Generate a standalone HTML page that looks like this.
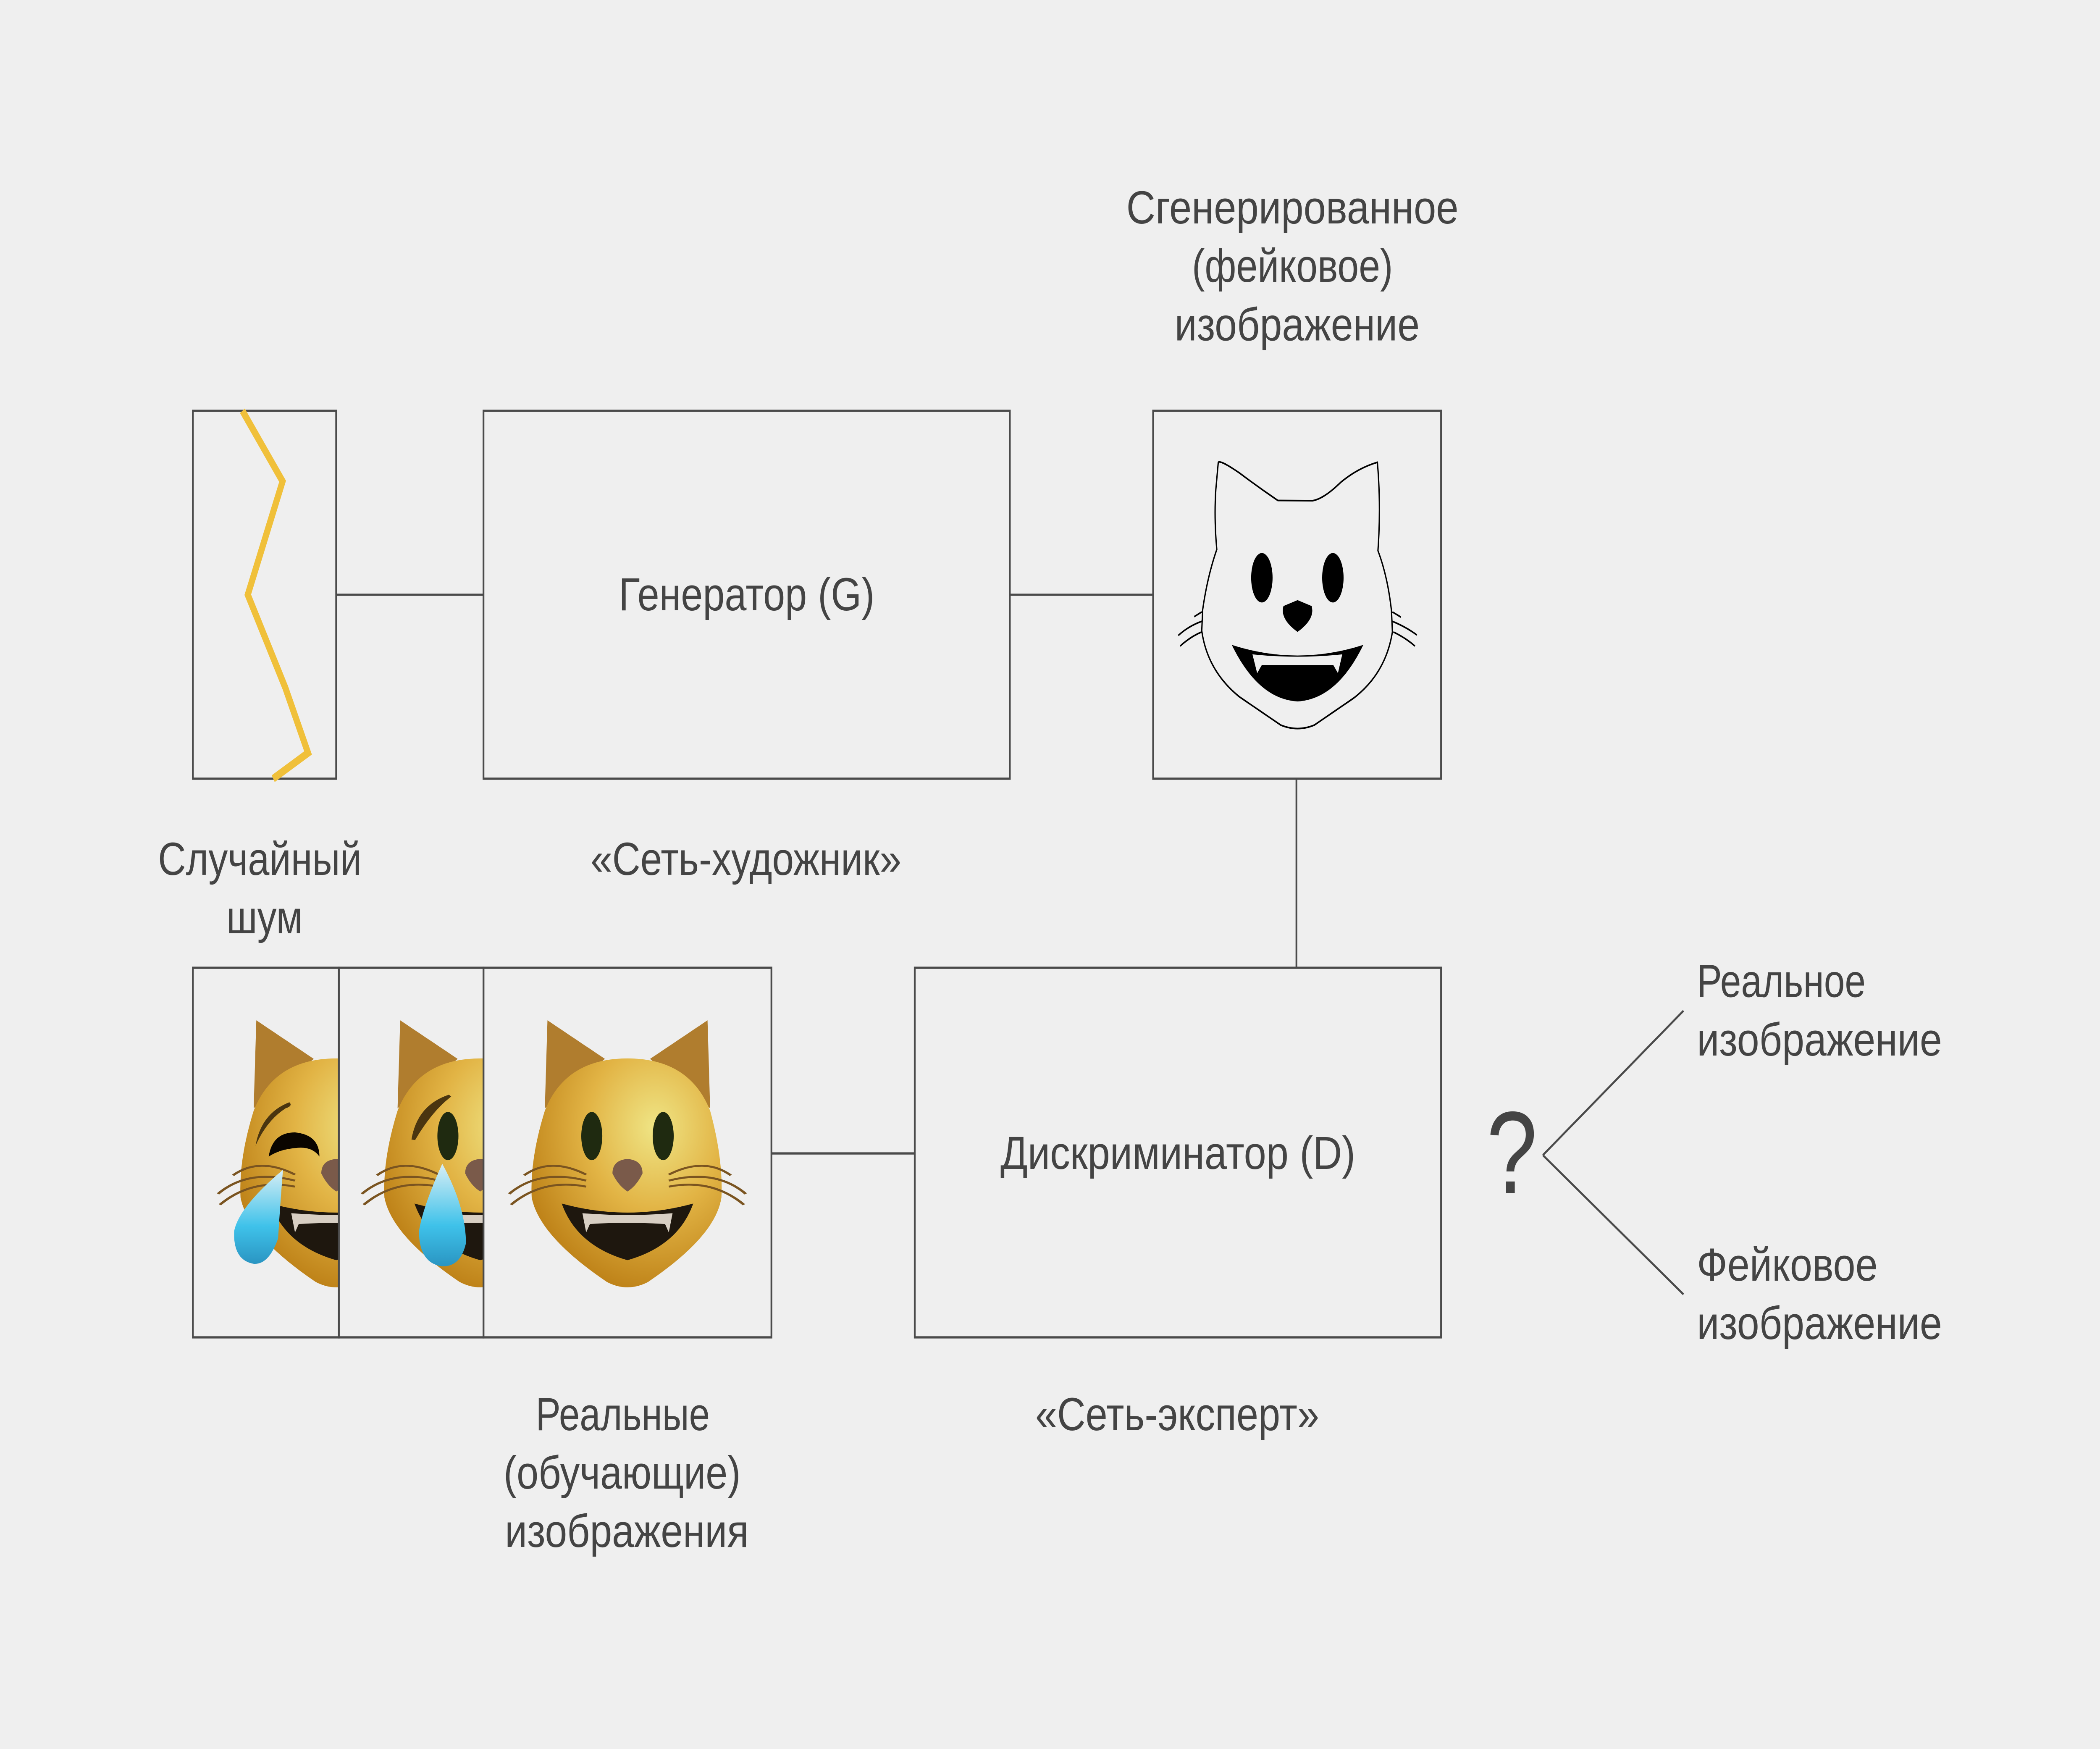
<!DOCTYPE html>
<html><head><meta charset="utf-8"><style>html,body{margin:0;padding:0;background:#efefef;width:100%;height:100%;overflow:hidden}svg{display:block;width:100vw;height:100vh}</style></head>
<body>
<svg xmlns="http://www.w3.org/2000/svg" viewBox="0 0 6417 4164" preserveAspectRatio="none">
<defs>
<radialGradient id="fg" cx="0.65" cy="0.3" r="0.8">
<stop offset="0" stop-color="#efe585"/><stop offset="0.45" stop-color="#e2b445"/><stop offset="1" stop-color="#b7780f"/>
</radialGradient>
<linearGradient id="tg" x1="0" y1="0" x2="0" y2="1"><stop offset="0" stop-color="#d8eef5"/><stop offset="0.6" stop-color="#3fc2ea"/><stop offset="1" stop-color="#2a95c2"/></linearGradient>
<g id="cat">
<path d="M952,225 L1105,385 L945,590 Z" fill="#b07d2e"/>
<path d="M1378,225 L1225,385 L1385,590 Z" fill="#b07d2e"/>
<path d="M1165,383 Q1330,383 1385,600 Q1420,800 1415,960 Q1400,1120 1220,1310 Q1165,1355 1110,1310 Q930,1120 910,960 Q905,800 945,600 Q1000,383 1165,383 Z" fill="url(#fg)"/>
<path d="M1165,800 Q1205,805 1205,860 Q1190,910 1165,935 Q1140,910 1125,860 Q1125,805 1165,800Z" fill="#7a5a4a"/>
<path d="M990,985 Q1165,1060 1340,985 Q1300,1160 1165,1220 Q1030,1160 990,985 Z" fill="#1e170e"/>
<path d="M1045,1025 Q1165,1040 1285,1025 L1275,1105 L1265,1070 Q1165,1060 1065,1070 L1055,1105 Z" fill="#d8cfc3"/>
<g fill="none" stroke="#7a5420" stroke-width="8">
<path d="M890,868 Q960,790 1055,865"/><path d="M850,945 Q930,840 1055,890"/><path d="M855,990 Q940,880 1055,915"/>
<path d="M1440,868 Q1370,790 1275,865"/><path d="M1480,945 Q1400,840 1275,890"/><path d="M1475,990 Q1390,880 1275,915"/>
</g>
</g>
<clipPath id="c1"><rect x="0" y="0" width="397" height="1600"/></clipPath>
<clipPath id="c2"><rect x="397" y="0" width="384" height="1600"/></clipPath>
</defs>
<rect width="6417" height="4164" fill="#efefef"/>
<g transform="translate(580,2300) scale(1.148,0.574)">
<g clip-path="url(#c1)">
<use href="#cat" transform="translate(-775,0)"/>
<path d="M175,745 Q190,610 265,565 Q275,580 255,590 Q205,640 175,745Z" fill="#4a3510"/>
<path d="M210,790 Q220,690 280,690 Q345,700 345,790 Q325,745 280,755 Q240,760 210,790Z" fill="#0a0500"/>
<path d="M248,845 Q240,1000 235,1130 Q210,1240 170,1235 Q115,1220 118,1100 Q130,1000 248,845Z" fill="url(#tg)"/>
</g>
<g clip-path="url(#c2)">
<use href="#cat" transform="translate(-392,0)"/>
<path d="M595,720 Q610,580 692,538 Q640,600 595,720Z" fill="#4a3510" stroke="#4a3510" stroke-width="10"/>
<ellipse cx="687" cy="705" rx="28" ry="100" fill="#1f2a10"/>
<path d="M672,820 Q735,1000 735,1150 Q720,1250 670,1245 Q610,1230 610,1100 Q620,1000 672,820Z" fill="url(#tg)"/>
</g>
<use href="#cat"/>
<ellipse cx="1070" cy="705" rx="28" ry="100" fill="#1f2a10"/>
<ellipse cx="1260" cy="705" rx="28" ry="100" fill="#1f2a10"/>
</g>
<g transform="scale(4.0925)">
<g fill="none" stroke="#4a4a4a" stroke-width="1.3">
<rect x="144" y="239" width="107" height="214"/>
<rect x="361" y="239" width="393" height="214"/>
<rect x="861" y="239" width="215" height="214"/>
<rect x="683" y="563" width="393" height="215"/>
<rect x="144" y="563" width="109" height="215"/>
<rect x="253" y="563" width="108" height="215"/>
<rect x="361" y="563" width="215" height="215"/>
<line x1="251" y1="346" x2="361" y2="346"/>
<line x1="754" y1="346" x2="861" y2="346"/>
<line x1="968" y1="453" x2="968" y2="563"/>
<line x1="576" y1="671" x2="683" y2="671"/>
<line x1="1152" y1="672" x2="1257" y2="588"/>
<line x1="1152" y1="672" x2="1257" y2="753"/>
</g>
<polyline points="181,239 211,280 185,346 213,400 230,438 204,453" fill="none" stroke="#f0c03a" stroke-width="4.5" stroke-linejoin="miter"/>
<g font-family="'Liberation Sans', sans-serif" font-size="27" fill="#444">
<text x="841" y="130" textLength="248" lengthAdjust="spacingAndGlyphs">Сгенерированное</text>
<text x="890" y="164" textLength="150" lengthAdjust="spacingAndGlyphs">(фейковое)</text>
<text x="877" y="198" textLength="183" lengthAdjust="spacingAndGlyphs">изображение</text>
<text x="462" y="355" textLength="191" lengthAdjust="spacingAndGlyphs">Генератор (G)</text>
<text x="118" y="509" textLength="152" lengthAdjust="spacingAndGlyphs">Случайный</text>
<text x="169" y="543" textLength="57" lengthAdjust="spacingAndGlyphs">шум</text>
<text x="441" y="509" textLength="232" lengthAdjust="spacingAndGlyphs">«Сеть-художник»</text>
<text x="747" y="680" textLength="265" lengthAdjust="spacingAndGlyphs">Дискриминатор (D)</text>
<text x="773" y="832" textLength="212" lengthAdjust="spacingAndGlyphs">«Сеть-эксперт»</text>
<text x="400" y="832" textLength="130" lengthAdjust="spacingAndGlyphs">Реальные</text>
<text x="376" y="866" textLength="177" lengthAdjust="spacingAndGlyphs">(обучающие)</text>
<text x="377" y="900" textLength="182" lengthAdjust="spacingAndGlyphs">изображения</text>
<text x="1267" y="580" textLength="126" lengthAdjust="spacingAndGlyphs">Реальное</text>
<text x="1267" y="614" textLength="183" lengthAdjust="spacingAndGlyphs">изображение</text>
<text x="1267" y="745" textLength="135" lengthAdjust="spacingAndGlyphs">Фейковое</text>
<text x="1267" y="779" textLength="183" lengthAdjust="spacingAndGlyphs">изображение</text>
<text x="1110" y="694" font-size="68">?</text>
</g>
</g>
<g transform="translate(3500,980) scale(0.574,0.561)">
<path d="M388,215 L375,330 Q365,450 380,585 Q330,700 305,840 L300,930 Q330,1100 500,1210 L720,1330 Q810,1360 900,1330 L1110,1215 Q1280,1110 1315,935 L1310,845 Q1290,700 1238,590 Q1255,400 1235,215 Q1130,240 1040,300 Q950,370 890,378 L705,377 Q600,320 500,260 Q400,205 388,215 Z" fill="none" stroke="#000" stroke-width="7"/>
<ellipse cx="620" cy="705" rx="57" ry="105"/><ellipse cx="998" cy="705" rx="57" ry="105"/>
<path d="M810,800 L735,825 Q715,880 810,935 Q905,880 885,825 Z"/>
<path d="M460,990 Q810,1080 1160,990 Q1020,1220 810,1230 Q600,1220 460,990 Z"/>
<path d="M570,1030 L595,1110 L620,1075 L1000,1075 L1025,1110 L1048,1030 Q810,1050 570,1030 Z" fill="#efefef"/>
<g stroke="#000" stroke-width="7" fill="none">
<path d="M300,850 L260,870 M300,890 Q230,910 175,950 M300,935 Q240,955 185,995"/>
<path d="M1315,850 L1360,872 M1315,890 Q1390,915 1445,948 M1320,935 Q1385,960 1435,995"/>
</g>
</g>
</svg>
</body></html>
